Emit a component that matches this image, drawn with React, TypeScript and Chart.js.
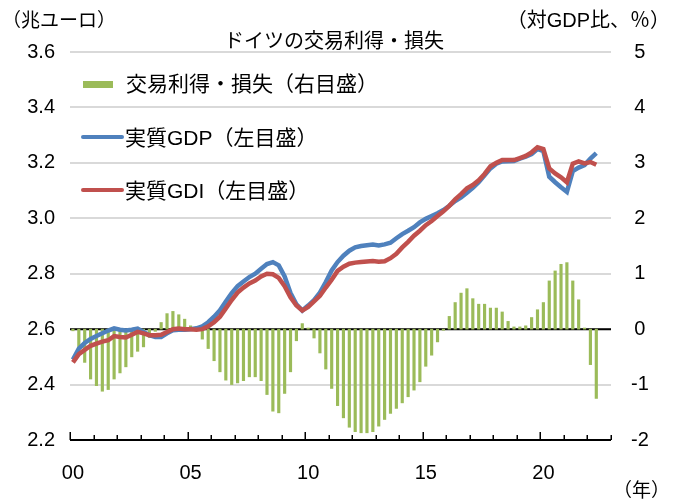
import React, { useEffect, useRef } from 'react';
import { Chart, registerables } from 'chart.js';

Chart.register(...registerables);

// ---- categories (quarters 2000Q1 .. 2022Q4) ----
const YEARS = [2000, 2001, 2002, 2003, 2004, 2005, 2006, 2007, 2008, 2009, 2010, 2011,
  2012, 2013, 2014, 2015, 2016, 2017, 2018, 2019, 2020, 2021, 2022];
const QUARTERS = ['Q1', 'Q2', 'Q3', 'Q4'];
const CATEGORIES = YEARS.flatMap((y) => QUARTERS.map((q) => `${y}${q}`));
const X_TICK_LABELS = ['00', '05', '10', '15', '20'];

// ---- series ----
// 交易利得・損失 (対GDP比, %) right axis
const TOT_GAIN = [
  -0.03, -0.34, -0.60, -0.90, -1.02, -1.12, -1.09, -0.90, -0.79, -0.68,
  -0.50, -0.40, -0.32, -0.15, -0.04, 0.12, 0.28, 0.32, 0.26, 0.18,
  0.06, 0.02, -0.18, -0.35, -0.57, -0.77, -0.92, -1.00, -0.97, -0.93,
  -0.86, -0.86, -0.93, -1.18, -1.48, -1.51, -1.16, -0.77, -0.21, 0.10,
  0.02, -0.16, -0.43, -0.72, -1.07, -1.38, -1.60, -1.77, -1.85, -1.87,
  -1.87, -1.85, -1.75, -1.63, -1.52, -1.43, -1.33, -1.22, -1.10, -0.95,
  -0.67, -0.47, -0.23, -0.02, 0.23, 0.48, 0.65, 0.73, 0.55, 0.45,
  0.45, 0.38, 0.38, 0.31, 0.14, 0.04, 0.04, 0.06, 0.21, 0.35,
  0.48, 0.87, 1.05, 1.17, 1.20, 0.87, 0.53, 0.02, -0.64, -1.25,
];
// 実質GDP (兆ユーロ) left axis
const REAL_GDP = [
  2.490, 2.530, 2.550, 2.565, 2.575, 2.585, 2.595, 2.603, 2.598, 2.595,
  2.598, 2.602, 2.590, 2.578, 2.572, 2.572, 2.585, 2.596, 2.598, 2.598,
  2.600, 2.603, 2.610, 2.625, 2.645, 2.668, 2.700, 2.730, 2.755, 2.772,
  2.788, 2.800, 2.818, 2.835, 2.842, 2.830, 2.790, 2.730, 2.690, 2.667,
  2.685, 2.705, 2.732, 2.770, 2.812, 2.842, 2.865, 2.883, 2.895, 2.900,
  2.903, 2.905, 2.902, 2.906, 2.912, 2.928, 2.943, 2.955, 2.968, 2.985,
  2.998, 3.008, 3.018, 3.030, 3.045, 3.062, 3.075, 3.092, 3.110, 3.130,
  3.155, 3.180, 3.197, 3.205, 3.206, 3.207, 3.215, 3.222, 3.232, 3.250,
  3.242, 3.150, 3.130, 3.112, 3.095, 3.170, 3.183, 3.192, 3.215, 3.235,
];
// 実質GDI (兆ユーロ) left axis
const REAL_GDI = [
  2.480, 2.510, 2.525, 2.540, 2.548, 2.555, 2.560, 2.575, 2.572, 2.570,
  2.580, 2.590, 2.585, 2.578, 2.578, 2.580, 2.590, 2.600, 2.602, 2.600,
  2.600, 2.598, 2.600, 2.610, 2.625, 2.645, 2.675, 2.705, 2.732, 2.750,
  2.765, 2.775, 2.790, 2.800, 2.798, 2.785, 2.755, 2.715, 2.685, 2.667,
  2.680, 2.700, 2.720, 2.750, 2.778, 2.810, 2.825, 2.836, 2.840, 2.842,
  2.844, 2.846, 2.843, 2.845, 2.856, 2.872, 2.895, 2.915, 2.937, 2.955,
  2.975, 2.990, 3.008, 3.025, 3.045, 3.068, 3.087, 3.108, 3.120, 3.137,
  3.160, 3.188, 3.200, 3.210, 3.210, 3.210, 3.217, 3.225, 3.238, 3.256,
  3.250, 3.180, 3.162, 3.148, 3.130, 3.197, 3.205, 3.198, 3.203, 3.193,
];

const TITLE = 'ドイツの交易利得・損失';
const LEFT_UNIT = '（兆ユーロ）';
const RIGHT_UNIT = '（対GDP比、％）';
const X_UNIT = '（年）';
const LEGEND_BAR = '交易利得・損失（右目盛）';
const LEGEND_GDP = '実質GDP（左目盛）';
const LEGEND_GDI = '実質GDI（左目盛）';

const GREEN = '#9bbb59';
const BLUE = '#4f81bd';
const RED = '#c0504d';
const GRID = '#d9d9d9';
const FONT = "'Liberation Sans', 'Noto Sans CJK JP', Arial, sans-serif";

const W = 673;
const H = 502;

const axisDecor = {
  id: 'axisDecor',
  beforeDatasetsDraw(chart: any) {
    const { ctx, chartArea, scales } = chart;
    const y0 = scales.y1.getPixelForValue(0);
    ctx.save();
    ctx.strokeStyle = '#000';
    ctx.lineWidth = 2;
    ctx.beginPath();
    ctx.moveTo(chartArea.left, y0);
    ctx.lineTo(chartArea.right, y0);
    ctx.stroke();
    ctx.restore();
  },
  afterDatasetsDraw(chart: any) {
    const { ctx, chartArea, scales } = chart;
    const xs = scales.x;
    const half = (xs.getPixelForValue(1) - xs.getPixelForValue(0)) / 2;
    const yb = chartArea.bottom;
    ctx.save();
    ctx.strokeStyle = '#000';
    ctx.lineWidth = 2;
    ctx.beginPath();
    ctx.moveTo(chartArea.left, yb);
    ctx.lineTo(chartArea.right, yb);
    ctx.stroke();
    ctx.lineWidth = 1.5;
    for (let k = 0; k <= YEARS.length; k++) {
      const px = Math.round(xs.getPixelForValue(k * 4) - half) + 0.25;
      const len = k % 5 === 0 ? 8 : 5;
      ctx.beginPath();
      ctx.moveTo(px, yb);
      ctx.lineTo(px, yb - len);
      ctx.stroke();
    }
    ctx.restore();
  },
};

function Label({ text, left, right, cy, size, center }: any) {
  const style: any = {
    position: 'absolute',
    top: cy - size / 2,
    fontSize: size,
    lineHeight: `${size}px`,
    whiteSpace: 'nowrap',
    fontFamily: FONT,
    color: '#000',
  };
  if (center !== undefined) {
    style.left = center;
    style.transform = 'translateX(-50%)';
  } else if (right !== undefined) {
    style.right = W - right;
  } else {
    style.left = left;
  }
  return <div style={style}>{text}</div>;
}

export default function App() {
  const ref = useRef<HTMLCanvasElement>(null);

  useEffect(() => {
    document.body.style.margin = '0';
    const canvas = ref.current!;
    const chart = new Chart(canvas, {
      type: 'bar',
      data: {
        labels: CATEGORIES,
        datasets: [
          {
            type: 'line',
            label: LEGEND_GDI,
            data: REAL_GDI,
            yAxisID: 'y',
            borderColor: RED,
            backgroundColor: RED,
            borderWidth: 4.5,
            pointRadius: 0,
            tension: 0,
            order: 1,
          } as any,
          {
            type: 'line',
            label: LEGEND_GDP,
            data: REAL_GDP,
            yAxisID: 'y',
            borderColor: BLUE,
            backgroundColor: BLUE,
            borderWidth: 4.5,
            pointRadius: 0,
            tension: 0,
            order: 2,
          } as any,
          {
            type: 'bar',
            label: LEGEND_BAR,
            data: TOT_GAIN,
            yAxisID: 'y1',
            backgroundColor: GREEN,
            barThickness: 2.5,
            order: 3,
          } as any,
        ],
      },
      options: {
        responsive: false,
        animation: false,
        devicePixelRatio: 1,
        layout: { padding: { top: 52, left: 0, right: 0, bottom: 0 } },
        plugins: {
          legend: { display: false },
          title: { display: false },
          tooltip: { enabled: false },
        },
        scales: {
          x: {
            type: 'category',
            offset: true,
            grid: { display: false, drawTicks: false },
            border: { display: false },
            ticks: {
              autoSkip: false,
              maxRotation: 0,
              minRotation: 0,
              padding: 21,
              color: '#000',
              font: { family: FONT, size: 20 },
              callback: (_v: any, i: number) => (i % 20 === 0 ? X_TICK_LABELS[i / 20] : ''),
            },
            afterFit: (s: any) => { s.height = 62; },
          },
          y: {
            position: 'left',
            min: 2.2,
            max: 3.6,
            grid: { color: GRID, lineWidth: 2, drawTicks: false },
            border: { display: false },
            ticks: {
              stepSize: 0.2,
              padding: 15,
              color: '#000',
              font: { family: FONT, size: 20 },
              callback: (v: any) => Number(v).toFixed(1),
            },
            afterFit: (s: any) => { s.width = 70; },
          },
          y1: {
            position: 'right',
            min: -2,
            max: 5,
            grid: { display: false, drawTicks: false },
            border: { display: false },
            ticks: {
              stepSize: 1,
              padding: 20,
              crossAlign: 'center',
              color: '#000',
              font: { family: FONT, size: 20 },
              callback: (v: any) => String(v),
            },
            afterFit: (s: any) => { s.width = 62; },
          },
        },
      } as any,
      plugins: [axisDecor],
    });
    return () => chart.destroy();
  }, []);

  return (
    <div style={{ position: 'fixed', left: 0, top: 0, width: W, height: H, background: '#fff' }}>
      <canvas ref={ref} width={W} height={H} style={{ position: 'absolute', left: 0, top: 0, width: W, height: H }} />
      <Label text={LEFT_UNIT} left={2} cy={20} size={19} />
      <Label text={RIGHT_UNIT} right={670} cy={20} size={20} />
      <Label text={TITLE} center={334} cy={41} size={20} />
      <Label text={X_UNIT} right={670} cy={490} size={19} />
      {/* legend */}
      <div style={{ position: 'absolute', left: 83, top: 81, width: 30, height: 7, background: GREEN }} />
      <Label text={LEGEND_BAR} left={126} cy={83} size={21} />
      <div style={{ position: 'absolute', left: 81, top: 135, width: 43, height: 4, background: BLUE, borderRadius: 2 }} />
      <Label text={LEGEND_GDP} left={125} cy={137} size={21} />
      <div style={{ position: 'absolute', left: 81, top: 188, width: 43, height: 4, background: RED, borderRadius: 2 }} />
      <Label text={LEGEND_GDI} left={125} cy={190} size={21} />
    </div>
  );
}
